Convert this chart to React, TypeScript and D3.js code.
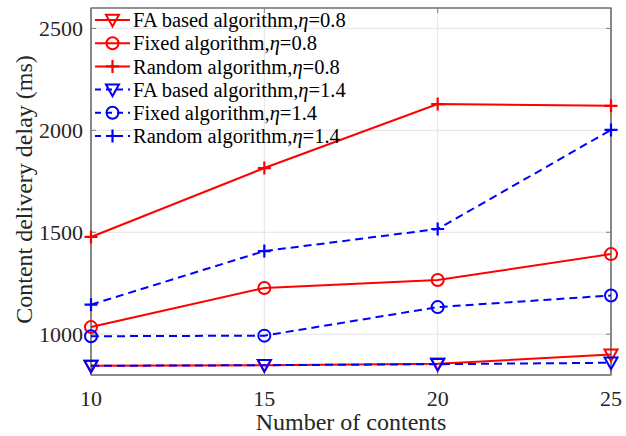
import React from "react";
import * as d3 from "d3";

const contents = [10, 15, 20, 25];
const faEta08 = [845, 848, 855, 900];
const fixedEta08 = [1035, 1227, 1266, 1393];
const randomEta08 = [1477, 1815, 2129, 2120];
const faEta14 = [845, 848, 853, 860];
const fixedEta14 = [990, 993, 1133, 1190];
const randomEta14 = [1145, 1408, 1516, 2002];
const xTicks = [10, 15, 20, 25];
const yTicks = [1000, 1500, 2000, 2500];

type Marker = "tri" | "circle" | "plus";
interface Series {
  name: string;
  eta: string;
  values: number[];
  color: string;
  dashed: boolean;
  marker: Marker;
}

const series: Series[] = [
  { name: "FA based algorithm,", eta: "=0.8", values: faEta08, color: "#ff0000", dashed: false, marker: "tri" },
  { name: "Fixed algorithm,", eta: "=0.8", values: fixedEta08, color: "#ff0000", dashed: false, marker: "circle" },
  { name: "Random algorithm,", eta: "=0.8", values: randomEta08, color: "#ff0000", dashed: false, marker: "plus" },
  { name: "FA based algorithm,", eta: "=1.4", values: faEta14, color: "#0000ff", dashed: true, marker: "tri" },
  { name: "Fixed algorithm,", eta: "=1.4", values: fixedEta14, color: "#0000ff", dashed: true, marker: "circle" },
  { name: "Random algorithm,", eta: "=1.4", values: randomEta14, color: "#0000ff", dashed: true, marker: "plus" },
];

const W = 626;
const H = 436;
const left = 91;
const right = 611;
const top = 8;
const bottom = 375;
const font = "'Liberation Serif', 'Times New Roman', serif";

const x = d3.scaleLinear().domain([10, 25]).range([left, right]);
const y = d3.scaleLinear().domain([800, 2600]).range([bottom, top]);

function MarkerShape({ kind, cx, cy, color }: { kind: Marker; cx: number; cy: number; color: string }) {
  if (kind === "tri") {
    const s = 6.5;
    const p = `M${cx - s},${cy - s * 0.8} L${cx + s},${cy - s * 0.8} L${cx},${cy + s * 1.0} Z`;
    return <path d={p} fill="none" stroke={color} strokeWidth={2} />;
  }
  if (kind === "circle") {
    return <circle cx={cx} cy={cy} r={6} fill="none" stroke={color} strokeWidth={2} />;
  }
  const s = 6.5;
  return (
    <path d={`M${cx - s},${cy} L${cx + s},${cy} M${cx},${cy - s} L${cx},${cy + s}`} stroke={color} strokeWidth={2.2} />
  );
}

export default function App() {
  const line = d3
    .line<number>()
    .x((_, i) => x(contents[i]))
    .y((v) => y(v));

  const legendX0 = 95;
  const legendX1 = 130;
  const legendY0 = 20;
  const legendDy = 23.2;

  return (
    <svg width={W} height={H} style={{ position: "absolute", left: 0, top: 0, background: "#fff" }}>
      <rect x={0} y={0} width={W} height={H} fill="#fff" />
      {/* grid */}
      {xTicks.slice(1, -1).map((t) => (
        <line key={`gx${t}`} x1={x(t)} x2={x(t)} y1={top} y2={bottom} stroke="#e3e3e3" strokeWidth={1} />
      ))}
      {yTicks.map((t) => (
        <line key={`gy${t}`} x1={left} x2={right} y1={y(t)} y2={y(t)} stroke="#e3e3e3" strokeWidth={1} />
      ))}
      {/* axes box */}
      <rect x={left} y={top} width={right - left} height={bottom - top} fill="none" stroke="#262626" strokeWidth={1} />
      <line x1={left} x2={left} y1={top} y2={bottom} stroke="#808080" strokeWidth={1.2} />
      <line x1={left} x2={right} y1={bottom} y2={bottom} stroke="#808080" strokeWidth={1.2} />
      <line x1={right} x2={right} y1={top} y2={bottom} stroke="#808080" strokeWidth={1.2} />
      {/* ticks */}
      {yTicks.map((t) => (
        <g key={`ty${t}`}>
          <line x1={left} x2={left + 5} y1={y(t)} y2={y(t)} stroke="#808080" strokeWidth={1} />
          <line x1={right - 5} x2={right} y1={y(t)} y2={y(t)} stroke="#808080" strokeWidth={1} />
          <text x={left - 8} y={y(t)} dy="0.35em" textAnchor="end" fontFamily={font} fontSize={22} fill="#262626">
            {t}
          </text>
        </g>
      ))}
      {xTicks.map((t) => (
        <g key={`tx${t}`}>
          <line x1={x(t)} x2={x(t)} y1={bottom} y2={bottom - 5} stroke="#808080" strokeWidth={1} />
          <line x1={x(t)} x2={x(t)} y1={top} y2={top + 5} stroke="#808080" strokeWidth={1} />
          <text x={x(t)} y={398} dy="0.35em" textAnchor="middle" fontFamily={font} fontSize={22} fill="#262626">
            {t}
          </text>
        </g>
      ))}
      {/* axis titles */}
      <text x={351} y={422} dy="0.35em" textAnchor="middle" fontFamily={font} fontSize={24} fill="#262626">
        Number of contents
      </text>
      <text
        transform={`translate(24,${(top + bottom) / 2 - 2}) rotate(-90)`}
        dy="0.35em"
        textAnchor="middle"
        fontFamily={font}
        fontSize={24}
        fill="#262626"
      >
        Content delivery delay (ms)
      </text>
      {/* series */}
      {series.map((s, k) => (
        <g key={`s${k}`}>
          <path
            d={line(s.values) || ""}
            fill="none"
            stroke={s.color}
            strokeWidth={2}
            strokeDasharray={s.dashed ? "8,5" : undefined}
          />
          {s.values.map((v, i) => (
            <MarkerShape key={i} kind={s.marker} cx={x(contents[i])} cy={y(v)} color={s.color} />
          ))}
        </g>
      ))}
      {/* legend */}
      {series.map((s, k) => {
        const ly = legendY0 + k * legendDy;
        return (
          <g key={`l${k}`}>
            <line
              x1={legendX0}
              x2={legendX1}
              y1={ly}
              y2={ly}
              stroke={s.color}
              strokeWidth={2}
              strokeDasharray={s.dashed ? "6,5" : undefined}
            />
            <MarkerShape kind={s.marker} cx={(legendX0 + legendX1) / 2} cy={ly} color={s.color} />
            <text x={133} y={ly} dy="0.35em" fontFamily={font} fontSize={20.5} fill="#000">
              {s.name}
              <tspan fontStyle="italic">η</tspan>
              {s.eta}
            </text>
          </g>
        );
      })}
    </svg>
  );
}
